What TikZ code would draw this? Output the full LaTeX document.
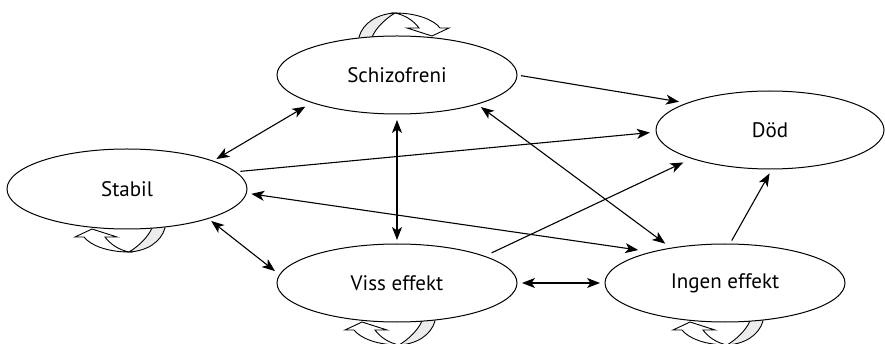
\documentclass[tikz,border=0pt]{standalone}
\usepackage{fontspec}
\setmainfont{PT Sans}
\usetikzlibrary{arrows.meta,shapes.geometric,backgrounds}

\tikzset{
  state/.style={ellipse, draw, fill=white, line width=1pt,
    minimum width=240pt, minimum height=78pt, inner sep=0pt, outer sep=0pt,
    font=\fontsize{21}{25}\selectfont},
  conn/.style={line width=1.1pt},
  % curved block arrow drawn over the top of a state (origin = top point)
  selfloop/.pic={
    \filldraw[fill=gray!15, line width=0.9pt]
      (-38,6) -- (-38,1) .. controls (-34,-13) and (-20,-22) .. (-2,-23)
      .. controls (-12,-17) and (-21,-8) .. (-25,1) -- (-25,6) -- cycle;
    \filldraw[fill=white, line width=0.9pt]
      (-2,-23) .. controls (20,-23) and (37,-16) .. (43,-8)
      -- (52,-8) -- (35,0) -- (10,-8) -- (22,-8)
      .. controls (17,-15) and (8,-21) .. (-2,-23) -- cycle;
  }
}

\begin{document}
\begin{tikzpicture}[x=1pt, y=-1pt,
  >={Stealth[length=13pt,width=10pt,inset=3.5pt]}]
\useasboundingbox (0,0) rectangle (885,344);

% states
\node[state] (S) at (397,75) {Schizofreni};
\node[state, minimum width=228pt] (D) at (770,130) {Död};
\node[state, minimum height=80pt] (St) at (127,189) {Stabil};
\node[state] (V) at (397,283) {Viss effekt};
\node[state] (I) at (725,283) {Ingen effekt};

% self transitions
\begin{pgfonlayer}{background}
  \pic at (S.north) {selfloop};
  \pic[rotate=180] at (St.south) {selfloop};
  \pic[rotate=180] at (V.south) {selfloop};
  \pic[rotate=180] at (I.south) {selfloop};
\end{pgfonlayer}

% transitions
\draw[conn, ->, shorten <=4pt, shorten >=8.5pt] (S.0) -- (D.162);
\draw[conn, ->, shorten <=5pt, shorten >=6.3pt] (St.9) -- (D.181);
\draw[conn, <->, shorten <=5pt, shorten >=7.5pt] (S.-20) -- (I.147);
\draw[conn, <->, shorten <=5pt, shorten >=14pt] (St.-2) -- (I.157);
\draw[conn, ->, shorten <=8pt, shorten >=9.5pt] (V.17) -- (D.200);
\draw[conn, ->, shorten <=4pt, shorten >=5pt] (I.83) -- (D.-87);
\draw[conn, <->, shorten <=5pt, shorten >=5pt] (V.0) -- (I.180);
\draw[conn, <->, shorten <=6pt, shorten >=4pt] (S.-90) -- (V.90);
\draw[conn, <->, shorten <=4pt, shorten >=8pt] (St.18) -- (S.198);
\draw[conn, <->, shorten <=4pt, shorten >=6pt] (St.-20) -- (V.176);
\end{tikzpicture}
\end{document}
